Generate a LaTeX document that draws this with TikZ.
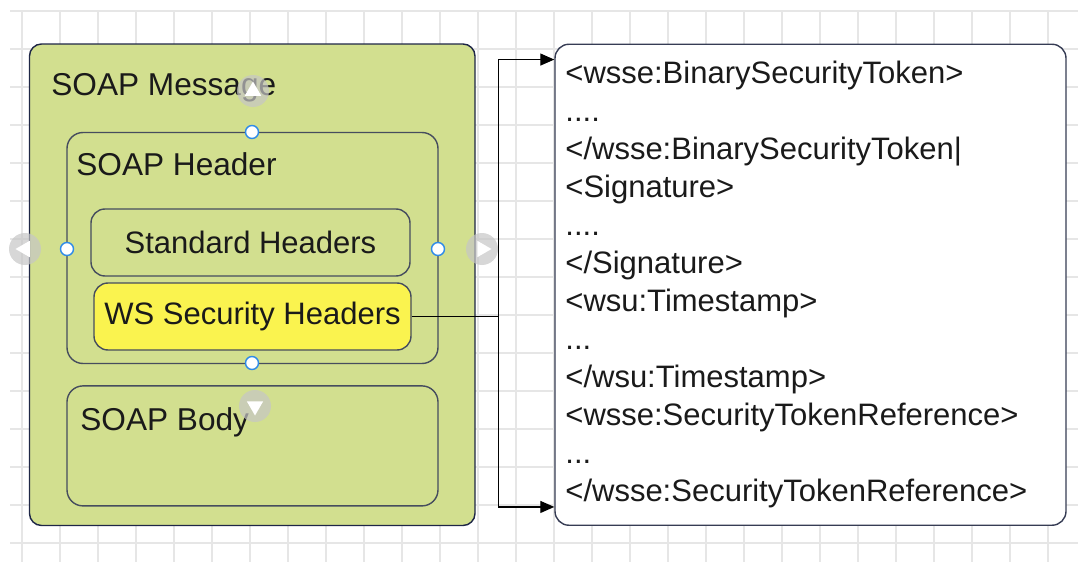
\documentclass[tikz,border=0pt]{standalone}
\usepackage{fontspec}
\setmainfont{Liberation Sans}
\usepackage{tikz}
\usetikzlibrary{arrows.meta,positioning,calc,shapes.geometric}
\definecolor{navy}{HTML}{1E2646}
\definecolor{edge}{HTML}{464D5E}
\definecolor{olive}{HTML}{D2DF8F}
\definecolor{lemon}{HTML}{FAF34F}
\definecolor{gridgray}{HTML}{E6E6E6}
\definecolor{pinblue}{HTML}{2F8BE8}
\definecolor{ink}{HTML}{1A1A1A}

\begin{document}
\begin{tikzpicture}[
  x=0.5pt,y=-0.5pt,
  every node/.style={font=\fontsize{15.5}{19}\selectfont,text=ink},
  gridline/.style={draw=gridgray,line width=0.7pt},
  part/.style={draw=edge,line width=0.7pt,rounded corners=7pt,fill=olive},
  boxtitle/.style={inner sep=0pt,anchor=base west,font=\fontsize{15.8}{19}\selectfont},
  link/.style={line width=0.6pt,color=black},
  arr/.style={-{Triangle[length=7pt,width=6pt]},line width=0.6pt,color=black},
  pin/.style={circle,draw=pinblue,fill=white,line width=0.7pt,minimum size=6.5pt,inner sep=0pt},
  knob/.style={circle,fill=gray!45,fill opacity=0.7,minimum size=16pt,inner sep=0pt},
  pointer/.style={regular polygon,regular polygon sides=3,fill=white,minimum size=9.5pt,inner sep=0pt}
]
  \useasboundingbox (0,0) rectangle (1078,562);
  % background grid
  \foreach \gx in {22,60,...,1078}
    \draw[gridline] (\gx,11) -- (\gx,562);
  \foreach \gy in {11,49,...,543}
    \draw[gridline] (10,\gy) -- (1078,\gy);

  % message and its parts
  \node[part,draw=navy,rounded corners=6pt,minimum width=222.75pt,minimum height=240.75pt] (msg) at (252.25,284.75) {};
  \node[part,rounded corners=8pt,minimum width=185.5pt,minimum height=115.5pt] (hdr) at (252.5,248) {};
  \node[part,minimum width=159.5pt,minimum height=33.5pt] (std) at (250.5,242.5) {Standard Headers};
  \node[part,fill=lemon,minimum width=158.5pt,minimum height=33.5pt] (wss) at (252.5,316.5) {WS Security Headers};
  \node[part,rounded corners=8pt,minimum width=185.5pt,minimum height=60pt,below=10.5pt of hdr] (body) {};
  \node[boxtitle] (msgTitle) at (51,95) {SOAP Message};
  \node[boxtitle] (hdrTitle) at (76,175) {SOAP Header};
  \node[boxtitle] (bodyTitle) at (80,430) {SOAP Body};

  % security header content
  \node[draw=navy!75!gray,line width=0.7pt,rounded corners=7pt,fill=white,
        minimum width=255.5pt,minimum height=240.5pt] (xml) at (810.5,284.75) {};
  \node[inner sep=0pt,anchor=north west,align=left] (xmlLines) at (565,60.5)
    {<wsse:BinarySecurityToken>\\....\\</wsse:BinarySecurityToken|\\<Signature>\\....\\</Signature>\\
     <wsu:Timestamp>\\...\\</wsu:Timestamp>\\<wsse:SecurityTokenReference>\\...\\</wsse:SecurityTokenReference>};

  \coordinate (fork) at ($(wss.east)+(87,0)$);
  \coordinate (xmlTop) at ($(xml.north west)+(0,16)$);
  \coordinate (xmlBot) at ($(xml.south west)+(0,-19)$);
  \draw[link] (wss.east) -- (fork);
  \draw[arr] (fork) |- (xmlTop);
  \draw[arr] (fork) |- (xmlBot);

  % selection handles
  \foreach \n/\x/\y in {top/252/132,left/67/249,right/438/249,bottom/252/363}
    \node[pin] (pin\n) at (\x,\y) {};
  \foreach \n/\x/\y/\r in {up/253/91/0,west/25/249/90,east/482/249/-90,down/255/406/180} {
    \node[knob] (knob\n) at (\x,\y) {};
    \node[pointer,rotate=\r] (tri\n) at (knob\n) {};
  }
\end{tikzpicture}
\end{document}
